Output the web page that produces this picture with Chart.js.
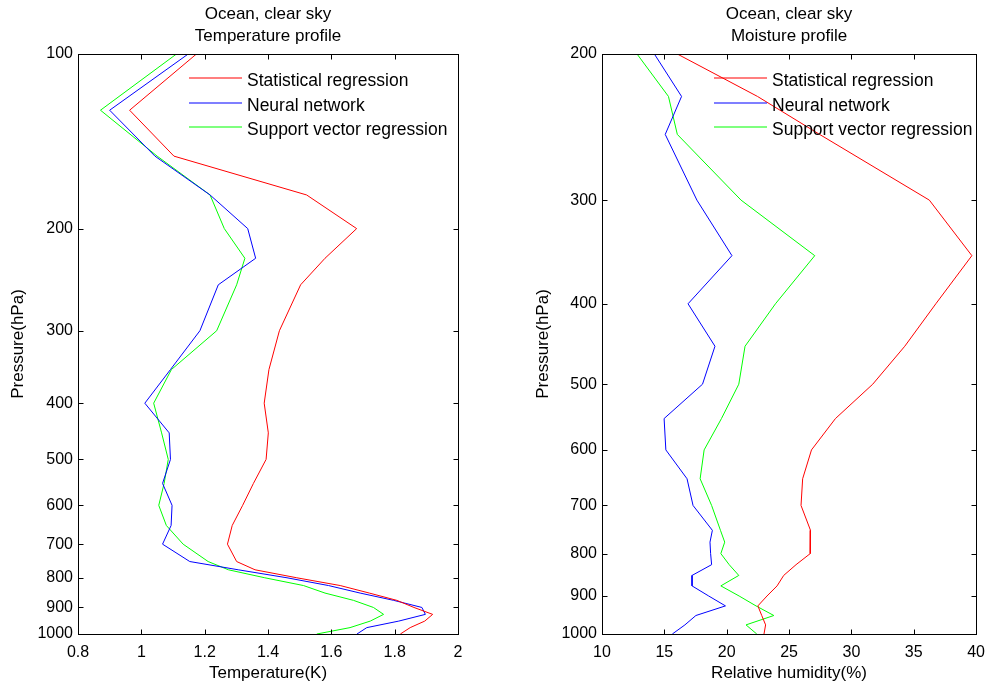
<!DOCTYPE html>
<html lang="en">
<head>
<meta charset="UTF-8">
<title>Ocean, clear sky profiles</title>
<style>
    body {
        margin: 0;
        background: white;
        font-family: "Liberation Sans", Arial, sans-serif;
    }
    #wrap {
        position: relative;
        width: 994px;
        height: 689px;
    }
    canvas {
        position: absolute;
        top: 0;
    }
    #temp-chart { left: 0; }
    #rh-chart { left: 497px; }
</style>
</head>
<body>
<div id="wrap">
    <canvas id="temp-chart" width="497" height="689"></canvas>
    <canvas id="rh-chart" width="497" height="689"></canvas>
</div>
<script src="https://cdn.jsdelivr.net/npm/chart.js"></script>
<script>
    // pressure levels (hPa) and errors
    const levelsT = [100, 125, 150, 175, 200, 225, 250, 300, 350, 400, 450, 500, 550, 600, 650, 700, 750, 775, 800, 825, 850, 875, 900, 925, 950, 975, 1000];
    const tempStat = [1.174, 0.963, 1.103, 1.522, 1.680, 1.580, 1.503, 1.436, 1.403, 1.388, 1.401, 1.394, 1.354, 1.320, 1.287, 1.272, 1.301, 1.359, 1.491, 1.628, 1.720, 1.807, 1.861, 1.920, 1.895, 1.849, 1.818];
    const tempNN = [1.148, 0.900, 1.043, 1.217, 1.336, 1.361, 1.243, 1.185, 1.092, 1.011, 1.088, 1.092, 1.067, 1.097, 1.094, 1.067, 1.153, 1.306, 1.460, 1.591, 1.691, 1.797, 1.886, 1.897, 1.813, 1.712, 1.681];
    const tempSVR = [1.111, 0.871, 1.050, 1.217, 1.262, 1.327, 1.301, 1.238, 1.095, 1.039, 1.064, 1.085, 1.072, 1.055, 1.079, 1.132, 1.211, 1.275, 1.390, 1.512, 1.580, 1.670, 1.733, 1.765, 1.723, 1.659, 1.554];

    const levelsQ = [200, 225, 250, 300, 350, 400, 450, 500, 550, 600, 650, 700, 750, 775, 800, 825, 850, 875, 900, 925, 950, 975, 1000];
    const rhStat = [16.04, 22.47, 27.45, 36.25, 39.66, 36.77, 34.28, 31.71, 28.72, 26.80, 26.09, 25.96, 26.72, 26.70, 26.70, 25.56, 24.57, 24.04, 23.23, 22.50, 22.81, 23.12, 22.99];
    const rhNN = [14.20, 16.38, 15.07, 17.61, 20.42, 16.90, 19.06, 18.06, 14.98, 15.12, 16.82, 17.30, 18.85, 18.66, 18.71, 18.79, 17.22, 17.22, 18.56, 19.90, 17.53, 16.65, 15.64];
    const rhSVR = [12.81, 15.33, 16.04, 21.15, 27.06, 23.91, 21.47, 20.97, 19.58, 18.19, 17.87, 18.79, 19.50, 19.84, 19.53, 20.20, 20.97, 19.53, 21.00, 22.35, 23.78, 21.55, 22.41];

    const seriesNames = ['Statistical regression', 'Neural network', 'Support vector regression'];
    const seriesColors = ['#ff0000', '#0000ff', '#00ff00'];

    const tempTicks = [0.8, 1, 1.2, 1.4, 1.6, 1.8, 2];
    const rhTicks = [10, 15, 20, 25, 30, 35, 40];
    const presTicksT = [100, 200, 300, 400, 500, 600, 700, 800, 900, 1000];
    const presTicksQ = [200, 300, 400, 500, 600, 700, 800, 900, 1000];

    const FONT = "'Liberation Sans', Arial, sans-serif";

    // title over the plot, box round it, inward ticks on all four sides, legend inside
    const framePlugin = {
        id: 'frame',
        afterDraw(chart, args, opts) {
            const ctx = chart.ctx;
            const a = chart.chartArea;
            const xs = chart.scales.x, ys = chart.scales.y;
            const L = Math.round(a.left) + 0.5, R = Math.round(a.right) + 0.5;
            const T = Math.round(a.top) + 0.5, B = Math.round(a.bottom) + 0.5;
            ctx.save();

            ctx.fillStyle = '#000';
            ctx.font = '17px ' + FONT;
            ctx.textAlign = 'center';
            ctx.textBaseline = 'middle';
            opts.title.forEach((line, i) => {
                ctx.fillText(line, (a.left + a.right) / 2, 14 + i * 22);
            });

            ctx.strokeStyle = '#000';
            ctx.lineWidth = 1;
            ctx.strokeRect(L, T, R - L, B - T);
            ctx.beginPath();
            xs.ticks.forEach(t => {
                const px = Math.round(xs.getPixelForValue(t.value)) + 0.5;
                ctx.moveTo(px, B); ctx.lineTo(px, B - 5);
                ctx.moveTo(px, T); ctx.lineTo(px, T + 5);
            });
            ys.ticks.forEach(t => {
                const py = Math.round(ys.getPixelForValue(t.value)) + 0.5;
                ctx.moveTo(L, py); ctx.lineTo(L + 5, py);
                ctx.moveTo(R, py); ctx.lineTo(R - 5, py);
            });
            ctx.stroke();

            // legend, no box
            ctx.font = '17.5px ' + FONT;
            ctx.textAlign = 'left';
            const lineRows = [78, 103, 127];
            const textRows = [81.5, 106, 130];
            seriesNames.forEach((name, i) => {
                ctx.strokeStyle = seriesColors[i];
                ctx.lineWidth = 1.2;
                ctx.beginPath();
                ctx.moveTo(opts.x, lineRows[i]);
                ctx.lineTo(opts.x + 53, lineRows[i]);
                ctx.stroke();
                ctx.fillStyle = '#000';
                ctx.fillText(name, opts.x + 58, textRows[i]);
            });
            ctx.restore();
        }
    };

    function makeChart(id, levels, series, xMin, xMax, xTicks, yMin, yTicks, opt) {
        const datasets = series.map((vals, i) => ({
            label: seriesNames[i],
            data: vals.map((v, j) => ({ x: v, y: levels[j] })),
            borderColor: seriesColors[i],
            borderWidth: 1,
            pointRadius: 0,
            tension: 0,
            fill: false
        }));
        return new Chart(document.getElementById(id), {
            type: 'line',
            data: { datasets },
            plugins: [framePlugin],
            options: {
                responsive: false,
                animation: false,
                devicePixelRatio: 1,
                layout: { padding: { left: 0, right: opt.padRight, top: 54, bottom: 0 } },
                plugins: {
                    legend: { display: false },
                    tooltip: { enabled: false },
                    title: { display: false },
                    frame: { x: opt.legendX, title: opt.title }
                },
                scales: {
                    x: {
                        type: 'linear',
                        min: xMin,
                        max: xMax,
                        afterBuildTicks: s => { s.ticks = xTicks.map(v => ({ value: v })); },
                        afterFit: s => { s.height = 55; },
                        grid: { display: false, drawTicks: false },
                        border: { display: false },
                        ticks: {
                            color: '#000',
                            padding: 9,
                            maxRotation: 0,
                            autoSkip: false,
                            font: { family: FONT, size: 16 },
                            callback: v => String(Number(v.toFixed(1)))
                        },
                        title: {
                            display: true,
                            text: opt.xTitle,
                            color: '#000',
                            font: { family: FONT, size: 17 },
                            padding: { top: 0, bottom: 5 }
                        }
                    },
                    y: {
                        type: 'logarithmic',
                        reverse: true,
                        min: yMin,
                        max: 1000,
                        afterBuildTicks: s => { s.ticks = yTicks.map(v => ({ value: v })); },
                        afterFit: s => { s.width = opt.yWidth; },
                        grid: { display: false, drawTicks: false },
                        border: { display: false },
                        ticks: {
                            color: '#000',
                            padding: 5,
                            autoSkip: false,
                            font: { family: FONT, size: 16 },
                            callback: v => String(v)
                        },
                        title: {
                            display: true,
                            text: 'Pressure(hPa)',
                            color: '#000',
                            font: { family: FONT, size: 17 },
                            padding: { top: opt.yTitlePad, bottom: 0 }
                        }
                    }
                }
            }
        });
    }

    makeChart('temp-chart', levelsT, [tempStat, tempNN, tempSVR], 0.8, 2, tempTicks, 100, presTicksT, {
        title: ['Ocean, clear sky', 'Temperature profile'],
        xTitle: 'Temperature(K)',
        yWidth: 78,
        padRight: 39,
        yTitlePad: 8,
        legendX: 189
    });

    makeChart('rh-chart', levelsQ, [rhStat, rhNN, rhSVR], 10, 40, rhTicks, 200, presTicksQ, {
        title: ['Ocean, clear sky', 'Moisture profile'],
        xTitle: 'Relative humidity(%)',
        yWidth: 105,
        padRight: 11,
        yTitlePad: 36,
        legendX: 217
    });
</script>
</body>
</html>
